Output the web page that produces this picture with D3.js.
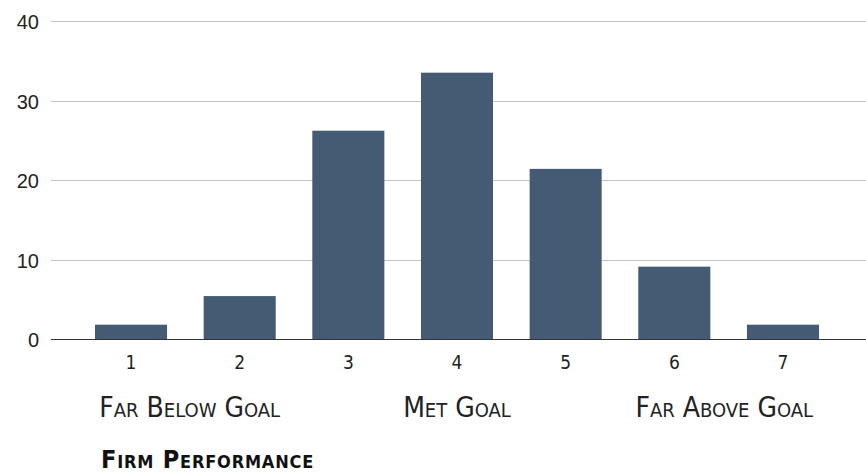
<!DOCTYPE html>
<html>
<head>
<meta charset="utf-8">
<script src="https://cdn.jsdelivr.net/npm/d3@7"></script>
<style>
  body { margin: 0; background: #fff; }
  svg { display: block; }
</style>
</head>
<body>
<div id="chart"></div>
<script>
var svgWidth = 866;
var svgHeight = 473;

// data
var categories = ["1", "2", "3", "4", "5", "6", "7"];
var counts = [1.8, 5.4, 26.2, 33.5, 21.4, 9.1, 1.8];
var yTicks = [0, 10, 20, 30, 40];
var scaleLabels = ["Far Below Goal", "Met Goal", "Far Above Goal"];
var scaleLabelPos = [1.54, 4, 6.46];
var axisTitle = "Firm Performance";

var narrow = "'Liberation Sans Narrow', 'DejaVu Sans Condensed', 'Roboto Condensed', sans-serif";

var svg = d3.select("#chart").append("svg")
    .attr("width", svgWidth)
    .attr("height", svgHeight);

var xScale = d3.scaleBand()
    .domain(categories)
    .range([76.7, 837.3])
    .paddingInner(0.337)
    .paddingOuter(0.1685);

var yScale = d3.scaleLinear()
    .domain([0, 40])
    .range([339, 21]);

// position along the 1..7 scale (for the verbal anchors)
var posScale = d3.scaleLinear()
    .domain([1, 7])
    .range([xScale("1") + xScale.bandwidth() / 2, xScale("7") + xScale.bandwidth() / 2]);

// gridlines
svg.append("g")
    .selectAll("line")
    .data(yTicks.filter(d => d !== 0))
    .enter().append("line")
    .attr("x1", 51)
    .attr("x2", svgWidth)
    .attr("y1", d => Math.round(yScale(d)) + 0.5)
    .attr("y2", d => Math.round(yScale(d)) + 0.5)
    .style("stroke", "#c4c4c4")
    .style("stroke-width", 1);

// y labels
svg.append("g")
    .selectAll("text")
    .data(yTicks)
    .enter().append("text")
    .attr("x", 39)
    .attr("y", d => yScale(d))
    .attr("dy", "0.4em")
    .style("text-anchor", "end")
    .style("font-family", "'Liberation Sans', Arial, sans-serif")
    .style("font-size", "20px")
    .style("fill", "#222")
    .text(d => d);

// bars
svg.selectAll("rect.bar")
    .data(counts)
    .enter().append("rect")
    .attr("class", "bar")
    .attr("x", (d, i) => xScale(categories[i]))
    .attr("width", xScale.bandwidth())
    .attr("y", d => yScale(d))
    .attr("height", d => yScale(0) - yScale(d))
    .style("fill", "#455b73");

// baseline
svg.append("line")
    .attr("x1", 51)
    .attr("x2", svgWidth)
    .attr("y1", Math.round(yScale(0)) + 0.5)
    .attr("y2", Math.round(yScale(0)) + 0.5)
    .style("stroke", "#333")
    .style("stroke-width", 1.2);

// x category labels
svg.append("g")
    .selectAll("text")
    .data(categories)
    .enter().append("text")
    .attr("x", d => xScale(d) + xScale.bandwidth() / 2)
    .attr("y", 369)
    .style("text-anchor", "middle")
    .style("font-family", narrow)
    .style("font-size", "19px")
    .style("fill", "#222")
    .text(d => d);

// verbal anchors
svg.append("g")
    .selectAll("text")
    .data(scaleLabels)
    .enter().append("text")
    .attr("x", (d, i) => posScale(scaleLabelPos[i]))
    .attr("y", 416.5)
    .style("text-anchor", "middle")
    .style("font-family", narrow)
    .style("font-variant", "small-caps")
    .style("font-size", "28px")
    .style("fill", "#222")
    .text(d => d);

svg.append("text")
    .attr("x", 101)
    .attr("y", 468)
    .style("font-family", narrow)
    .style("font-variant", "small-caps")
    .style("font-weight", "bold")
    .style("font-size", "25px")
    .style("letter-spacing", "0.8px")
    .style("fill", "#111")
    .text(axisTitle);
</script>
</body>
</html>
